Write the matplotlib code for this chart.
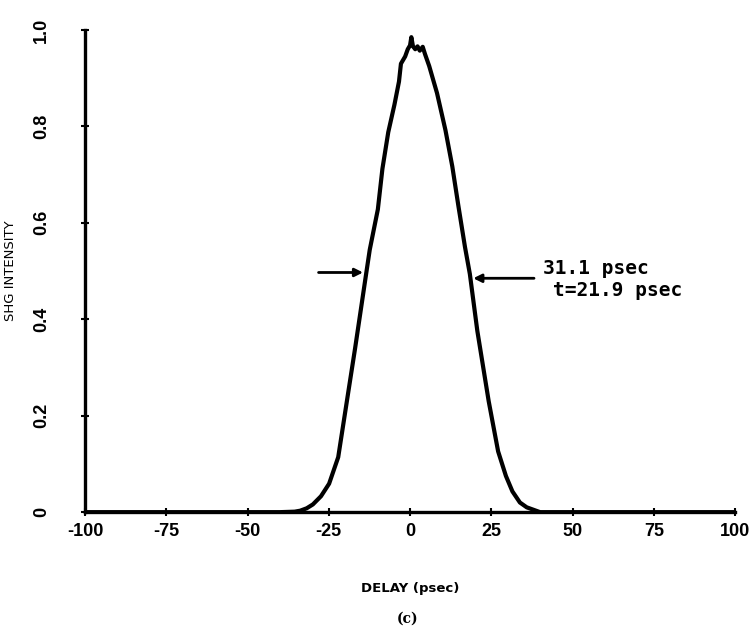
import numpy as np
import matplotlib.pyplot as plt

plt.rcParams['axes.unicode_minus'] = False

# autocorrelation trace
delay = [-100, -60, -40, -35.5, -33.8, -31.8, -29.9, -27.4, -24.9, -22.1, -19.0,
         -16.9, -13.6, -12.4, -9.9, -8.5, -6.7, -4.8, -3.4, -2.8, -1.5, -0.7,
         0.0, 0.4, 0.9, 1.6, 2.3, 3.0, 3.9, 4.6, 5.9, 8.3, 10.9, 13.0, 14.9,
         16.9, 18.4, 20.7, 24.2, 27.1, 29.5, 31.5, 33.8, 35.9, 40, 60, 100]
shg = [0.0, 0.0, 0.0, 0.001, 0.003, 0.008, 0.016, 0.033, 0.059, 0.114, 0.249,
       0.340, 0.490, 0.544, 0.628, 0.712, 0.788, 0.845, 0.893, 0.930, 0.945, 0.960,
       0.968, 0.985, 0.966, 0.960, 0.966, 0.957, 0.965, 0.950, 0.925, 0.869, 0.792,
       0.717, 0.634, 0.550, 0.494, 0.376, 0.230, 0.126, 0.075, 0.043, 0.020, 0.010,
       0.0, 0.0, 0.0]

xticks = [-100, -75, -50, -25, 0, 25, 50, 75, 100]
yticks = [0, 0.2, 0.4, 0.6, 0.8, 1.0]
ytick_labels = ['0', '0.2', '0.4', '0.6', '0.8', '1.0']

fwhm_text = '31.1 psec'
tau_text = 't=21.9 psec'

fig = plt.figure(figsize=(7.55, 6.37), dpi=100)
ax = fig.add_axes([0.1126, 0.196, 0.861, 0.757])

ax.plot(delay, shg, color='black', lw=3.0, solid_joinstyle='round')

ax.set_xlim(-100, 100)
ax.set_ylim(0, 1.0)
for side in ['top', 'right']:
    ax.spines[side].set_visible(False)
for side in ['left', 'bottom']:
    ax.spines[side].set_linewidth(2.4)

ax.set_xticks(xticks)
ax.set_xticklabels([str(t) for t in xticks], fontsize=13, fontweight='bold',
                   family='Liberation Sans')
ax.set_yticks(yticks)
ax.set_yticklabels(ytick_labels, fontsize=13, fontweight='bold',
                   family='Liberation Sans', rotation=90, va='center')
ax.tick_params(axis='x', direction='inout', length=6, width=1.5, pad=5)
ax.tick_params(axis='y', direction='inout', length=6, width=1.5, pad=22)

ax.set_xlabel('DELAY (psec)', fontsize=9.5, fontweight='bold', labelpad=30)
ax.set_ylabel('SHG INTENSITY', fontsize=9.5)
ax.yaxis.set_label_coords(-0.105, 0.5)
fig.text(0.54, 0.022, '(c)', fontsize=10, fontweight='bold', ha='center',
         family='DejaVu Serif')

# FWHM markers
arrow = dict(arrowstyle='-|>', color='black', lw=2.0, mutation_scale=12)
ax.annotate('', xy=(-13.6, 0.497), xytext=(-29, 0.497), arrowprops=arrow)
ax.annotate('', xy=(18.6, 0.485), xytext=(39, 0.485), arrowprops=arrow)
ax.text(41.0, 0.505, fwhm_text, fontsize=14, fontweight='bold',
        family='DejaVu Sans Mono', va='center')
ax.text(44.0, 0.46, tau_text, fontsize=14, fontweight='bold',
        family='DejaVu Sans Mono', va='center')

fig.savefig('out.png', dpi=100, facecolor='white')
